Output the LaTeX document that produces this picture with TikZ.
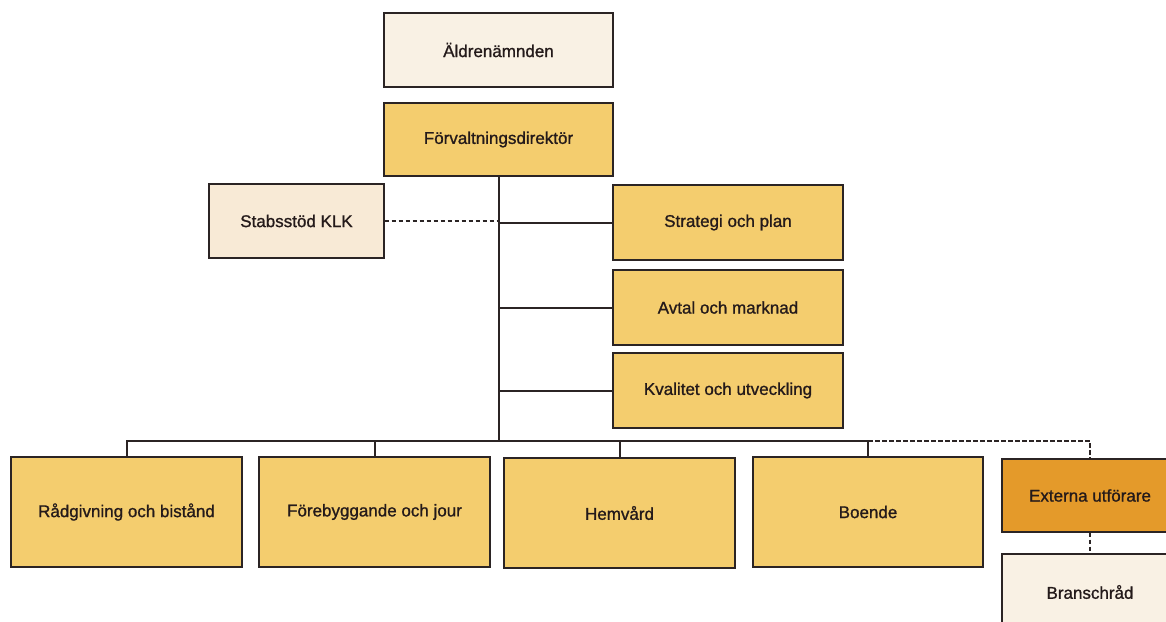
\documentclass[tikz,border=0pt]{standalone}
\usepackage{fontspec}
\setmainfont{Liberation Sans}
\newfontfamily\boxfont{Liberation Sans}[FakeBold=1.1]
\definecolor{cream}{HTML}{F9F1E4}
\definecolor{peach}{HTML}{F8EAD6}
\definecolor{gold}{HTML}{F4CD6E}
\definecolor{amber}{HTML}{E49A2A}
\definecolor{linec}{HTML}{2B2424}
\definecolor{textc}{HTML}{241A1A}
\begin{document}
\begin{tikzpicture}[x=1pt,y=-1pt,
  box/.style={draw=linec, line width=1.4pt, text=textc, inner sep=0pt,
    font=\boxfont\fontsize{17}{20}\selectfont},
  topbox/.style={box, minimum width=229pt, minimum height=74pt},
  sidebox/.style={box, fill=gold, minimum width=230pt, minimum height=75pt},
  unitbox/.style={box, fill=gold, minimum width=231pt, minimum height=110pt},
  extbox/.style={box, minimum width=176pt},
  conn/.style={color=linec, line width=2pt},
  dashconn/.style={conn, dash pattern=on 4.5pt off 2.5pt}]
\useasboundingbox (0,0) rectangle (1166,621);
\fill[white] (0,0) rectangle (1166,621);

\coordinate (bus) at (498.5,441);
\coordinate (busR) at (1090,441);

\node[topbox, fill=cream] (ald) at (498.5,50) {Äldrenämnden};
\node[topbox, fill=gold, minimum height=73pt] (fd) at (498.5,139.5) {Förvaltningsdirektör};
\node[box, fill=peach, minimum width=175pt, minimum height=74pt] (stab) at (296.5,221) {Stabsstöd KLK};

\node[sidebox] (strat) at (728,222.5) {Strategi och plan};
\node[sidebox] (avtal) at (728,307.5) {Avtal och marknad};
\node[sidebox] (kval) at (728,390.5) {Kvalitet och utveckling};

\node[unitbox] (rad) at (126.5,512) {Rådgivning och bistånd};
\node[unitbox] (fore) at (374.5,512) {Förebyggande och jour};
\node[unitbox] (hem) at (619.5,513) {Hemvård};
\node[unitbox, minimum width=230pt] (boende) at (868,512) {Boende};

\node[extbox, fill=amber, minimum height=73pt] (ext) at (1090,495.5) {Externa utförare};
\node[extbox, fill=cream, minimum height=76pt] (bran) at (1090,592) {Branschråd};

% trunk
\draw[conn] (fd.south) -- (bus);
% staff lines
\draw[dashconn] (stab.east) -- (stab.east -| fd.south);
\draw[conn] (strat.west) -- (strat.west -| fd.south);
\draw[conn] (avtal.west) -- (avtal.west -| fd.south);
\draw[conn] (kval.west) -- (kval.west -| fd.south);
% bus
\draw[conn] (rad.north) -- (rad.north |- bus) -- (boende.north |- bus) -- (boende.north);
\draw[conn] (fore.north) -- (fore.north |- bus);
\draw[conn] (hem.north) -- (hem.north |- bus);
\draw[dashconn] (boende.north |- bus) -- (busR) -- (ext.north);
\draw[dashconn] (ext.south) -- (bran.north);
\end{tikzpicture}
\end{document}
